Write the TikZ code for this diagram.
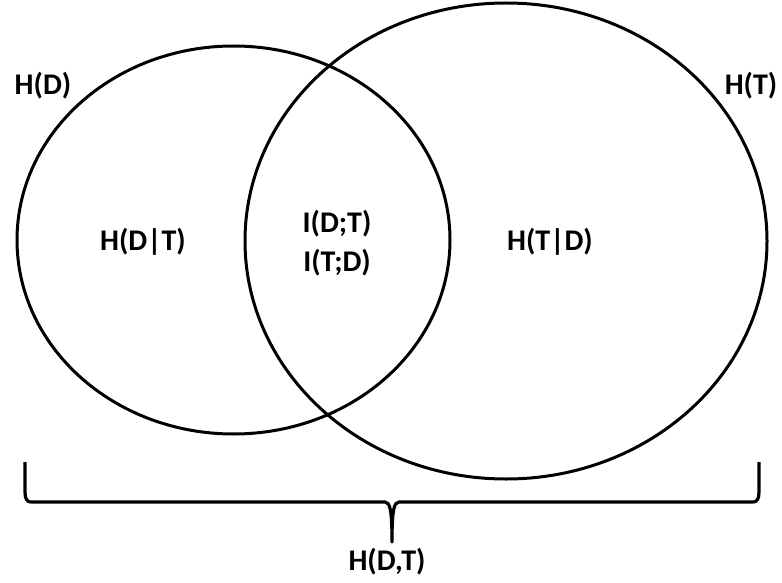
\documentclass[tikz,border=0pt]{standalone}
\usepackage{fontspec}
\setmainfont{Carlito}
\begin{document}
\begin{tikzpicture}[x=1pt,y=-1pt,
  venn/.style={draw=black,line width=3pt},
  lbl/.style={font=\fontsize{30}{35}\selectfont\bfseries,inner sep=0pt,align=center},
  bracestyle/.style={draw=black,line width=3.2pt,line join=round}]
\useasboundingbox (0,0) rectangle (782,583);
\draw[venn] (233.5,240) ellipse [x radius=216.5, y radius=194];
\draw[venn] (506,241) ellipse [x radius=261, y radius=238];
\node[lbl] (hd) at (43,86) {H(D)};
\node[lbl] (ht) at (751,86) {H(T)};
\node[lbl] (hdt) at (143,242) {H(D|T)};
\node[lbl] (mi) at (337,243) {I(D;T)\\[4pt]I(T;D)};
\node[lbl] (htd) at (550,242) {H(T|D)};
\node[lbl] (joint) at (387,562) {H(D,T)};
\coordinate (bl) at (25,462);
\coordinate (br) at (759,462);
\coordinate (tip) at (392,542);
\draw[bracestyle] (bl) -- ++(0,30) .. controls ++(0,7) and ++(-4,0) .. ++(6,10) -- (385,502) .. controls (390,502) and (392,510) .. (tip) .. controls (392,510) and (394,502) .. (399,502) -- (753,502) .. controls ++(4,0) and ++(0,7) .. (759,492) -- (br);
\end{tikzpicture}
\end{document}
